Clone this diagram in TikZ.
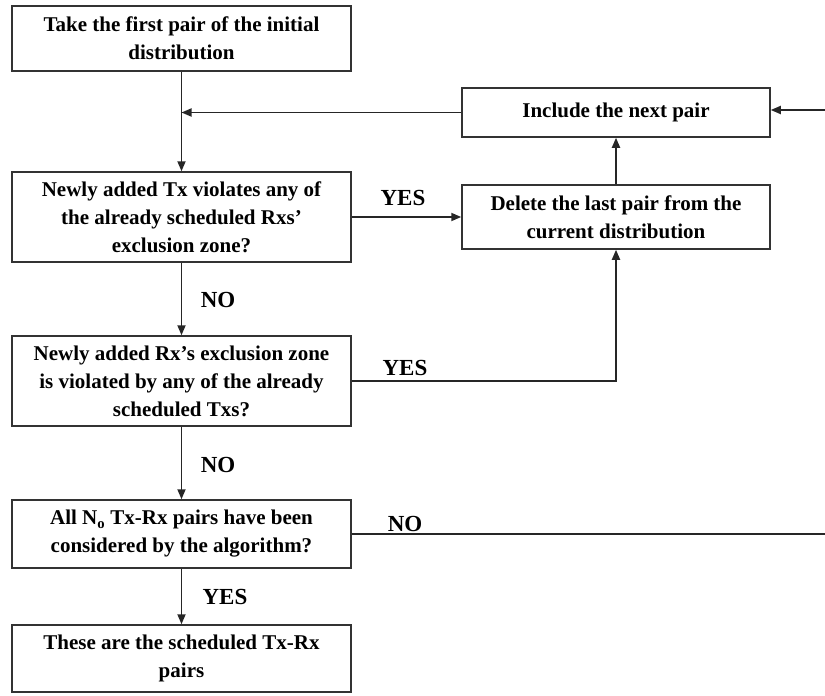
\documentclass[tikz,border=0pt]{standalone}
\usepackage{fontspec}
\setmainfont{Liberation Serif}
\usetikzlibrary{arrows.meta}
\begin{document}
\begin{tikzpicture}[x=1pt,y=1pt,
  box/.style={draw=black!80,line width=1.5pt,rectangle,minimum width=339pt,align=center,inner sep=2pt,font=\fontsize{21}{28}\selectfont\bfseries},
  sbox/.style={box,minimum width=308pt},
  lab/.style={font=\fontsize{23}{24}\selectfont\bfseries,inner sep=0pt},
  conn/.style={draw=black!85,line width=1.8pt},
  arr/.style={conn,-{Triangle[length=10pt,width=8pt]}}]
\useasboundingbox (0,0) rectangle (825,-696);
\node[box,minimum height=65pt] (b1) at (181.5,-38.5) {Take the first pair of the initial\\distribution};
\node[box,minimum height=90pt] (b2) at (181.5,-217) {Newly added Tx violates any of\\the already scheduled Rxs'\\exclusion zone?};
\node[box,minimum height=90pt] (b3) at (181.5,-381) {Newly added Rx's exclusion zone\\is violated by any of the already\\scheduled Txs?};
\node[box,minimum height=68pt] (b4) at (181.5,-534) {All N\textsubscript{o} Tx-Rx pairs have been\\considered by the algorithm?};
\node[box,minimum height=67pt] (b5) at (181.5,-658.5) {These are the scheduled Tx-Rx\\pairs};
\node[sbox,minimum height=49pt] (inc) at (616,-112.5) {Include the next pair};
\node[sbox,minimum height=64pt] (del) at (616,-217) {Delete the last pair from the\\current distribution};
\coordinate (j) at (b1.south |- inc.west);
\coordinate (rin) at (825,-110);
\coordinate (rout) at (825,-534);
\draw[arr] (b1.south) -- (b2.north);
\draw[arr] (inc.west) -- (j);
\draw[arr] (rin) -- (rin -| inc.east);
\draw[arr] (b2.east) -- (del.west);
\draw[arr] (del.north) -- (inc.south);
\draw[arr] (b3.east) -- (del.south |- b3.east) -- (del.south);
\draw[arr] (b2.south) -- (b3.north);
\draw[arr] (b3.south) -- (b4.north);
\draw[conn] (b4.east) -- (rout);
\draw[arr] (b4.south) -- (b5.north);
\node[lab] (l1) at (403,-198) {YES};
\node[lab] (l2) at (218,-300) {NO};
\node[lab] (l3) at (405,-368) {YES};
\node[lab] (l4) at (218,-465) {NO};
\node[lab] (l5) at (405,-524) {NO};
\node[lab] (l6) at (225,-597) {YES};
\end{tikzpicture}
\end{document}
